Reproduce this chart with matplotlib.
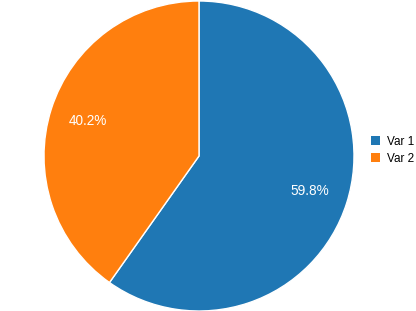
import matplotlib
matplotlib.use("Agg")
import matplotlib.pyplot as plt
from matplotlib.patches import Patch

labels = ["Var 1", "Var 2"]
values = [59.8, 40.2]
colors = ["#1f77b4", "#ff7f0e"]

plt.rcParams['font.family'] = ['Liberation Sans', 'DejaVu Sans']

fig = plt.figure(figsize=(4.16, 3.11), dpi=100)
ax = fig.add_axes([44/416, 0/311, 310/416, 310/311])
wedges, texts, autotexts = ax.pie(values, colors=colors, startangle=90, counterclock=False,
                                  autopct='%1.1f%%', pctdistance=0.75,
                                  wedgeprops=dict(edgecolor='white', linewidth=1),
                                  textprops=dict(color='white', fontsize=9.8))
ax.set_xlim(-1, 1)
ax.set_ylim(-1, 1)
ax.set_aspect('equal')
ax.axis('off')

handles = [Patch(facecolor=c, edgecolor='none') for c in colors]
fig.legend(handles, labels, loc='center left', bbox_to_anchor=(366/416, 0.517),
           frameon=False, fontsize=8.5, handlelength=0.8, handleheight=0.8,
           handletextpad=0.6, labelspacing=0.4, borderaxespad=0)
fig.savefig("out.png", dpi=100)
